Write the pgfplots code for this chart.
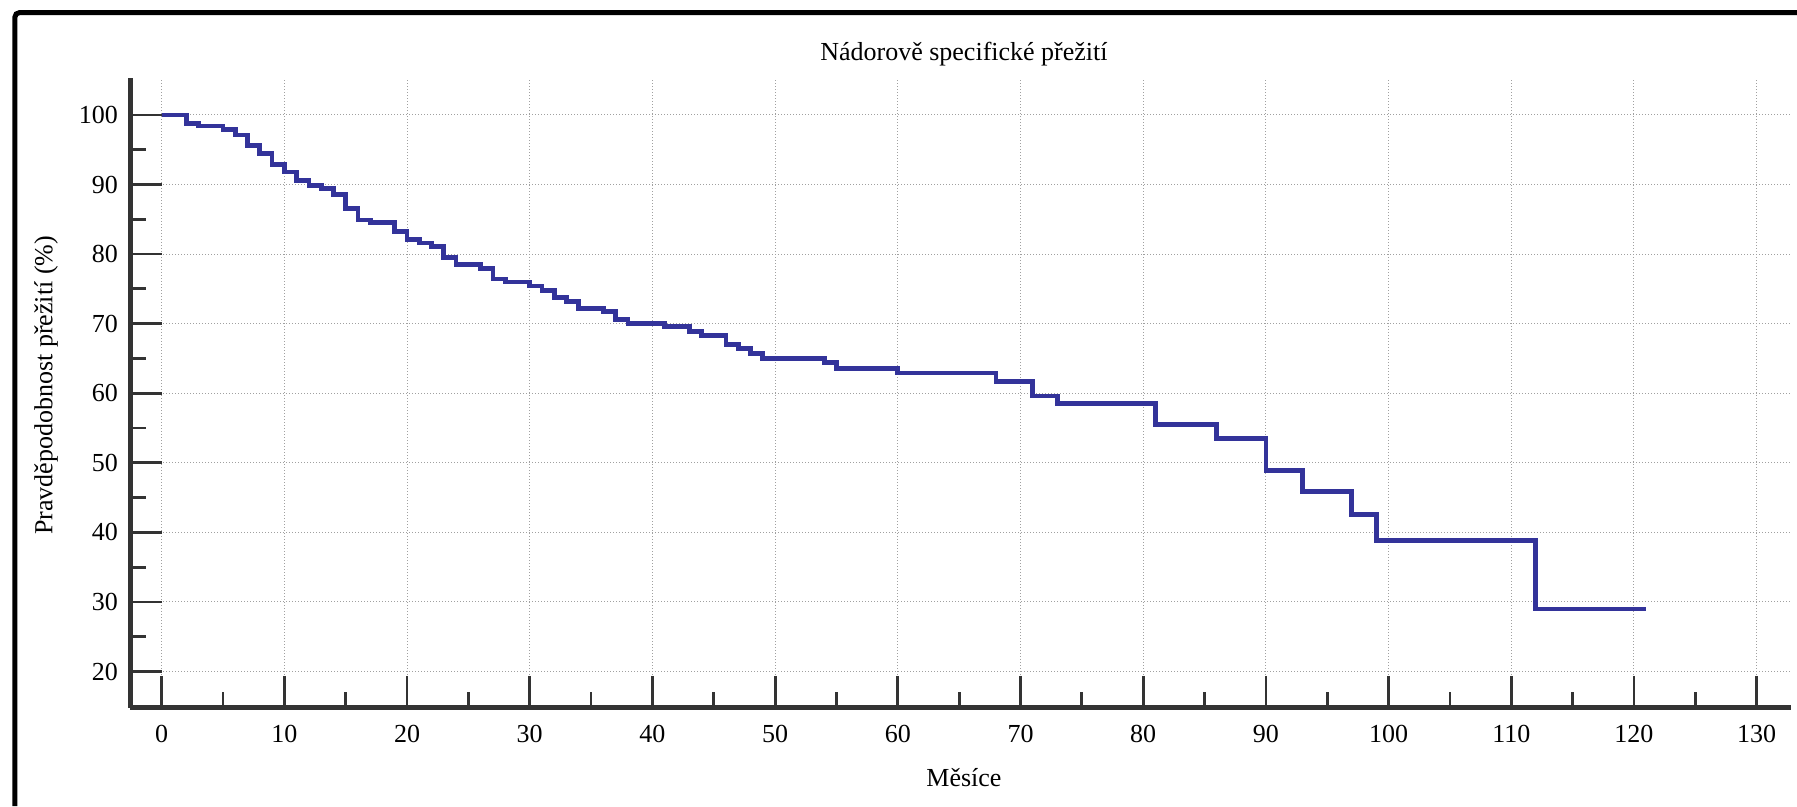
\documentclass[border=0pt]{standalone}
\usepackage{fontspec}
\setmainfont{Liberation Serif}
\usepackage{pgfplots}
\pgfplotsset{compat=1.18}
\definecolor{curve}{HTML}{33339A}
\definecolor{axisgray}{HTML}{333333}
\definecolor{gridgray}{HTML}{A0A0A0}
\newcommand{\fs}{\fontsize{10.4}{12}\selectfont}
\begin{document}
\begin{tikzpicture}
\useasboundingbox (0,0) rectangle (718.8pt,322.4pt);
\fill[white] (0,0) rectangle (718.8pt,322.4pt);
% frame
\draw[black, line width=2pt, rounded corners=2pt] (5.9pt,0) -- (5.9pt,317.4pt) -- (718.8pt,317.4pt);
\begin{axis}[
  at={(52.1pt,39.3pt)}, anchor=south west,
  scale only axis, width=664.3pt, height=251.9pt,
  xmin=-2.56, xmax=132.8, ymin=14.8, ymax=105.3,
  axis x line=bottom, axis y line=left,
  axis line style={draw=axisgray, line width=2pt, -},
  xtick={0,10,...,130}, ytick={20,30,...,100},
  minor xtick={5,15,...,125}, minor ytick={25,35,...,95},
  tick align=inside,
  major tick length=12.6pt, minor tick length=6.5pt,
  every tick/.style={draw=axisgray, line width=1.1pt},
  grid=major,
  major grid style={draw=gridgray, line width=0.4pt, dash pattern=on 0.4pt off 0.8pt},
  minor grid style={draw=none},
  /pgf/number format/assume math mode=true,
  ticklabel style={font=\fs},
  xticklabel style={yshift=-3.4pt},
  yticklabel style={xshift=-1.4pt},
  title={Nádorově specifické přežití},
  title style={font=\fs, at={(0.502,1)}, anchor=center, yshift=3.7pt},
  xlabel={Měsíce},
  xlabel style={font=\fs, at={(0.502,0)}, anchor=center, yshift=-28pt},
  ylabel={Pravděpodobnost přežití (\%)},
  ylabel style={font=\fs, at={(axis description cs:-0.0507,0.512)}, anchor=center},
  clip=false,
]
\addplot[const plot, draw=curve, line width=1.9pt, mark=none] coordinates {
(0,100) (2,98.8) (3,98.4) (5,97.9) (6,97.1) (7,95.6) (8,94.5) (9,92.9)
(10,91.8) (11,90.6) (12,89.8) (13,89.4) (14,88.6) (15,86.6) (16,84.9)
(17,84.5) (19,83.2) (20,82.1) (21,81.6) (22,81.1) (23,79.5) (24,78.5)
(26,77.9) (27,76.4) (28,76.0) (30,75.4) (31,74.8) (32,73.8) (33,73.2)
(34,72.2) (36,71.8) (37,70.6) (38,70.0) (41,69.6) (43,68.9) (44,68.3)
(46,67.0) (47,66.4) (48,65.7) (49,65.0) (54,64.4) (55,63.6) (60,62.9)
(68,61.7) (71,59.6) (73,58.5) (81,55.5) (86,53.5) (90,48.9) (93,45.9)
(97,42.6) (99,38.8) (112,29.0) (121,29.0)
};
\end{axis}
\end{tikzpicture}
\end{document}
